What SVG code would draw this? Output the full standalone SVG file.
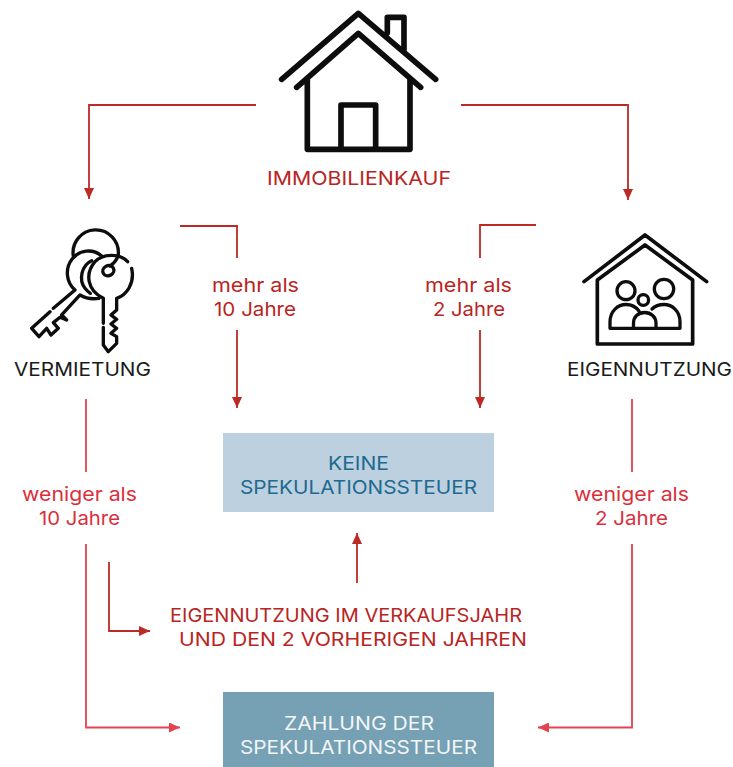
<svg xmlns="http://www.w3.org/2000/svg" width="733" height="767" viewBox="0 0 733 767">
<style>
text{font-family:Inter,"Liberation Sans",sans-serif;font-size:19px;font-weight:400}
.d{fill:#b8251f}.l{fill:#d9303c}.k{fill:#1a1a1a}.b{fill:#20698f}.w{fill:#f2f6f8}
.i{fill:none;stroke:#0d0d0d;stroke-linecap:round;stroke-linejoin:round}
.c{fill:none;stroke-width:1.8}
.cd{stroke:#bb2a26}.cl{stroke:#e2434f}
</style>
<defs>
<marker id="ad" markerUnits="userSpaceOnUse" markerWidth="12" markerHeight="10" refX="11" refY="5" orient="auto"><path d="M0 0L11 5L0 10Z" fill="#bb2a26"/></marker>
<marker id="al" markerUnits="userSpaceOnUse" markerWidth="12" markerHeight="10" refX="11" refY="5" orient="auto"><path d="M0 0L11 5L0 10Z" fill="#e2434f"/></marker>
</defs>
<rect width="733" height="767" fill="#fff"/>
<g id="connectors">
<path class="c cd" marker-end="url(#ad)" d="M256 105H89V199"/>
<path class="c cd" marker-end="url(#ad)" d="M461 105H628V200"/>
<path class="c cd" d="M180 226H237V258"/>
<path class="c cd" marker-end="url(#ad)" d="M237 330V408"/>
<path class="c cd" d="M536 225H480V258"/>
<path class="c cd" marker-end="url(#ad)" d="M480 330V408"/>
<path class="c cl" d="M86 399V472"/>
<path class="c cl" marker-end="url(#al)" d="M86 544V727.500H180"/>
<path class="c cl" d="M632 399V472"/>
<path class="c cl" marker-end="url(#al)" d="M632 544V727.500H538"/>
<path class="c cd" marker-end="url(#ad)" d="M109 562V631H150"/>
<path class="c cd" marker-end="url(#ad)" d="M357 583V533"/>
</g>
<g id="immobilienkauf">
<g transform="translate(260 0) scale(.3333)">
<path class="i" stroke-width="17" d="M65 238L295 40L527 238M110 262L295 100L482 262M142 235V448H450V235M243 448V315H347V448M382 98V52H432V150"/>
</g>
<text class="d" x="267" y="185" textLength="184" lengthAdjust="spacingAndGlyphs">IMMOBILIENKAUF</text>
</g>
<g id="vermietung">
<g transform="translate(25 220) scale(.3333)">
<g class="i" stroke-width="10">
<path d="M145 108A68 68 0 1 1 280 103"/>
<path d="M230 108A62 65 0 0 0 150 210L85 265M75 275L20 325L42 350L65 325L78 345L100 325L85 308L105 292L125 300L110 285L165 225Q190 240 222 235"/>
<path d="M200 122C170 135 160 180 180 205Q188 215 196 220"/>
<path d="M308 125C285 100 235 100 210 125C180 160 185 210 235 235V310M235 322V375L250 395L275 370V350L258 340L275 325L258 312L275 298L258 285L275 270V235C305 225 330 190 320 145"/>
<ellipse cx="250" cy="152" rx="17" ry="15" transform="rotate(-30 250 152)"/>
<path d="M255 138Q275 125 280 103"/>
</g>
</g>
<text class="k" x="14" y="376" textLength="137" lengthAdjust="spacingAndGlyphs">VERMIETUNG</text>
</g>
<g id="eigennutzung">
<g transform="translate(560 220) scale(.3333)">
<path class="i" stroke-width="11" d="M72 185L255 45L440 185M112 180L255 75L398 180V372H112Z"/>
</g>
<g class="i" stroke-width="3.300">
<circle cx="626" cy="290.700" r="9"/>
<circle cx="664" cy="289" r="9.700"/>
<circle cx="643.300" cy="300" r="5.300"/>
<path d="M610 328.300H680V322C680 311 672 304.500 664 304.500C659 304.500 655 306 652 309M610 328.300V322C610 311 618 304.500 626 304.500C631 304.500 636 307 639 311M633.500 328.300V323C633.500 317 638 312.500 644.500 312.500C651 312.500 656 317 656 323V328.300"/>
</g>
<text class="k" x="567" y="376" textLength="165" lengthAdjust="spacingAndGlyphs">EIGENNUTZUNG</text>
</g>
<g id="label-mehr-10"><text class="d" x="212" y="292" textLength="87" lengthAdjust="spacingAndGlyphs">mehr als</text><text class="d" x="214" y="316" textLength="82" lengthAdjust="spacingAndGlyphs">10 Jahre</text></g>
<g id="label-mehr-2"><text class="d" x="425" y="292" textLength="87" lengthAdjust="spacingAndGlyphs">mehr als</text><text class="d" x="433" y="316" textLength="72" lengthAdjust="spacingAndGlyphs">2 Jahre</text></g>
<g id="label-weniger-10"><text class="l" x="22" y="501" textLength="115" lengthAdjust="spacingAndGlyphs">weniger als</text><text class="l" x="39" y="525" textLength="81" lengthAdjust="spacingAndGlyphs">10 Jahre</text></g>
<g id="label-weniger-2"><text class="l" x="574" y="501" textLength="115" lengthAdjust="spacingAndGlyphs">weniger als</text><text class="l" x="595" y="525" textLength="73" lengthAdjust="spacingAndGlyphs">2 Jahre</text></g>
<g id="keine-steuer">
<rect x="223" y="433" width="271" height="79" fill="#bcd0e0"/>
<text class="b" x="328" y="470" textLength="61" lengthAdjust="spacingAndGlyphs">KEINE</text>
<text class="b" x="240" y="494" textLength="237" lengthAdjust="spacingAndGlyphs">SPEKULATIONSSTEUER</text>
</g>
<g id="eigennutzung-verkaufsjahr">
<text class="d" x="170" y="622" textLength="352" lengthAdjust="spacingAndGlyphs">EIGENNUTZUNG IM VERKAUFSJAHR</text>
<text class="d" x="179" y="646" textLength="348" lengthAdjust="spacingAndGlyphs">UND DEN 2 VORHERIGEN JAHREN</text>
</g>
<g id="zahlung">
<rect x="223" y="692" width="271" height="75" fill="#76a0b3"/>
<text class="w" x="284" y="730" textLength="150" lengthAdjust="spacingAndGlyphs">ZAHLUNG DER</text>
<text class="w" x="240" y="754" textLength="237" lengthAdjust="spacingAndGlyphs">SPEKULATIONSSTEUER</text>
</g>
</svg>
